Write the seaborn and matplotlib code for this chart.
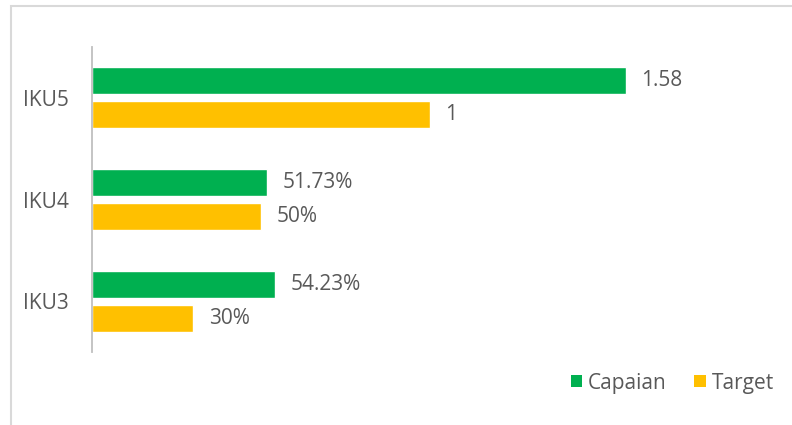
import matplotlib
matplotlib.use("Agg")
import matplotlib.pyplot as plt
import seaborn as sns
import pandas as pd
from matplotlib.patches import Rectangle, Patch

categories = ["IKU5", "IKU4", "IKU3"]
series = ["Capaian", "Target"]
capaian = [1.58, 0.5173, 0.5423]
target = [1.0, 0.50, 0.30]
capaian_labels = ["1.58", "51.73%", "54.23%"]
target_labels = ["1", "50%", "30%"]

colors = {"Capaian": "#00B050", "Target": "#FFC000"}
text_color = "#595959"

df = pd.DataFrame({
    "cat": categories * 2,
    "series": ["Capaian"] * 3 + ["Target"] * 3,
    "value": capaian + target,
})

sns.set_theme(style="white")
plt.rcParams["font.family"] = ["Open Sans", "DejaVu Sans"]

fig = plt.figure(figsize=(7.92, 4.25), dpi=100)
ax = fig.add_axes([92 / 792, 1 - 352 / 425, 676 / 792, 305 / 425])

sns.barplot(data=df, y="cat", x="value", hue="series", order=categories,
            hue_order=series, palette=colors, orient="h", width=0.67, gap=0.21,
            ax=ax, saturation=1, legend=False)

ax.set_xlim(0, 2.0)
ax.set_ylim(2.5, -0.5)
ax.set_xlabel("")
ax.set_ylabel("")
ax.set_xticks([])
for s in ["top", "right", "bottom"]:
    ax.spines[s].set_visible(False)
ax.spines["left"].set_color("#BFBFBF")
ax.spines["left"].set_linewidth(1.3)
ax.tick_params(axis="y", length=0, pad=17, labelsize=15, labelcolor=text_color)

for cont, labs in zip(ax.containers, [capaian_labels, target_labels]):
    ax.bar_label(cont, labels=labs, padding=11, fontsize=15, color=text_color)

handles = [Patch(facecolor=colors[s], edgecolor="none") for s in series]
fig.legend(handles, series, loc="center right", bbox_to_anchor=(774 / 792, 1 - 383 / 425),
           ncol=2, frameon=False, fontsize=15, handlelength=0.55, handleheight=0.55,
           handletextpad=0.3, columnspacing=1.3, labelcolor=text_color,
           borderpad=0, borderaxespad=0)

fig.patches.append(Rectangle((11 / 792, -0.1), 1.2, 1 - 6 / 425 + 0.1, transform=fig.transFigure,
                             fill=False, edgecolor="#D9D9D9", linewidth=1.5))

fig.savefig("out.png", dpi=100)
